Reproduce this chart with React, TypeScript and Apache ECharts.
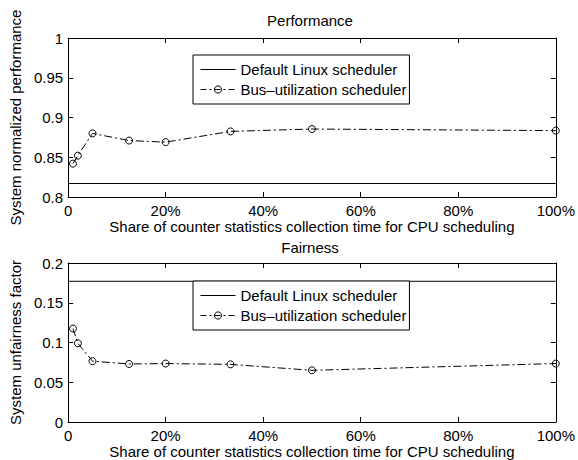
import React, { useEffect, useRef } from 'react';
import * as echarts from 'echarts';

const FONT = '"Liberation Sans", Arial, Helvetica, sans-serif';

const shareValues = [1, 2, 5, 12.5, 20, 33.3, 50, 100];
const perfBus = [0.842, 0.852, 0.88, 0.871, 0.869, 0.8825, 0.8855, 0.8835];
const perfDefault = 0.817;
const fairBus = [0.1175, 0.099, 0.0765, 0.073, 0.0735, 0.0725, 0.065, 0.0735];
const fairDefault = 0.177;
const xRange = [0, 100];
const xInterval = 20;
const perfRange = [0.8, 1];
const fairRange = [0, 0.2];
const yInterval = 0.05;
const seriesNames = ['Default Linux scheduler', 'Bus\u2013utilization scheduler'];
const titles = ['Performance', 'Fairness'];
const xName = 'Share of counter statistics collection time for CPU scheduling';
const yNames = ['System normalized performance', 'System unfairness factor'];

const txt = { color: '#000', fontSize: 15, fontFamily: FONT };

function buildOption() {
  const yRanges = [perfRange, fairRange];
  const busData = [perfBus, fairBus];
  const defData = [perfDefault, fairDefault];
  const legendTops = [55, 281];
  const titleYs = [20, 247];

  const xAxis: any[] = [];
  const yAxis: any[] = [];
  const series: any[] = [];
  const legend: any[] = [];
  const graphic: any[] = [];

  for (let i = 0; i < 2; i++) {
    const axisLine = { show: true, onZero: false, lineStyle: { color: '#000', width: 1 } };
    const tick = { show: true, inside: true, length: 5, lineStyle: { color: '#000', width: 1 } };
    xAxis.push({
      gridIndex: i, type: 'value', position: 'bottom', min: xRange[0], max: xRange[1], interval: xInterval,
      axisLine, axisTick: tick, splitLine: { show: false },
      axisLabel: { ...txt, margin: 6, formatter: (v: number) => (v === 0 ? '0' : v + '%') },
      name: xName, nameLocation: 'middle', nameGap: 22, nameTextStyle: txt,
    });
    xAxis.push({
      gridIndex: i, type: 'value', position: 'top', min: xRange[0], max: xRange[1], interval: xInterval,
      axisLine, axisTick: tick, splitLine: { show: false }, axisLabel: { show: false },
    });
    yAxis.push({
      gridIndex: i, type: 'value', position: 'left', min: yRanges[i][0], max: yRanges[i][1], interval: yInterval,
      axisLine, axisTick: tick, splitLine: { show: false },
      axisLabel: { ...txt, margin: 5, formatter: (v: number) => String(+v.toFixed(2)) },
      name: yNames[i], nameLocation: 'middle', nameGap: 40, nameTextStyle: txt,
    });
    yAxis.push({
      gridIndex: i, type: 'value', position: 'right', min: yRanges[i][0], max: yRanges[i][1], interval: yInterval,
      axisLine, axisTick: tick, splitLine: { show: false }, axisLabel: { show: false },
    });
    series.push({
      type: 'line', name: seriesNames[0], xAxisIndex: 2 * i, yAxisIndex: 2 * i,
      data: [[xRange[0], defData[i]], [xRange[1], defData[i]]],
      symbol: 'none', lineStyle: { color: '#000', width: 1 },
      itemStyle: { color: 'rgba(0,0,0,0)', borderWidth: 0 },
    });
    series.push({
      type: 'line', name: seriesNames[1], xAxisIndex: 2 * i, yAxisIndex: 2 * i,
      data: shareValues.map((x, j) => [x, busData[i][j]]),
      symbol: 'circle', symbolSize: 7,
      lineStyle: { color: '#000', width: 1, type: [8, 3, 2, 3] },
      itemStyle: { color: 'rgba(0,0,0,0)', borderColor: '#000', borderWidth: 1 },
    });
    legend.push({
      orient: 'vertical', left: 193, top: legendTops[i], padding: [7, 3, 7, 7],
      itemWidth: 35, itemHeight: 9, itemGap: 5,
      borderColor: '#000', borderWidth: 1, backgroundColor: '#fff',
      textStyle: txt, selectedMode: false,
      lineStyle: { width: 1 },
      data: [
        {
          name: seriesNames[0],
          lineStyle: { width: 1, color: '#000', type: 'solid' },
          itemStyle: { color: 'rgba(0,0,0,0)', borderColor: 'rgba(0,0,0,0)', borderWidth: 0 },
        },
        {
          name: seriesNames[1],
          lineStyle: { width: 1, color: '#000', type: [6, 3, 2, 3] },
          itemStyle: { color: 'rgba(0,0,0,0)', borderColor: '#000', borderWidth: 1 },
        },
      ],
    });
    graphic.push({
      type: 'text', x: 310, y: titleYs[i],
      style: { text: titles[i], fill: '#000', font: `15px ${FONT}`, textAlign: 'center', textVerticalAlign: 'middle' },
    });
  }

  return {
    animation: false,
    backgroundColor: '#fff',
    grid: [
      { left: 63, right: 21, top: 38, height: 159 },
      { left: 63, right: 21, top: 263, height: 160 },
    ],
    xAxis, yAxis, series, legend, graphic,
  };
}

export default function App() {
  const ref = useRef<HTMLDivElement>(null);
  useEffect(() => {
    if (!ref.current) return;
    const chart = echarts.init(ref.current, undefined, { renderer: 'svg' });
    chart.setOption(buildOption());
    return () => chart.dispose();
  }, []);
  return (
    <div
      ref={ref}
      style={{ position: 'fixed', left: 0, top: 0, width: 578, height: 460, background: '#fff' }}
    />
  );
}
